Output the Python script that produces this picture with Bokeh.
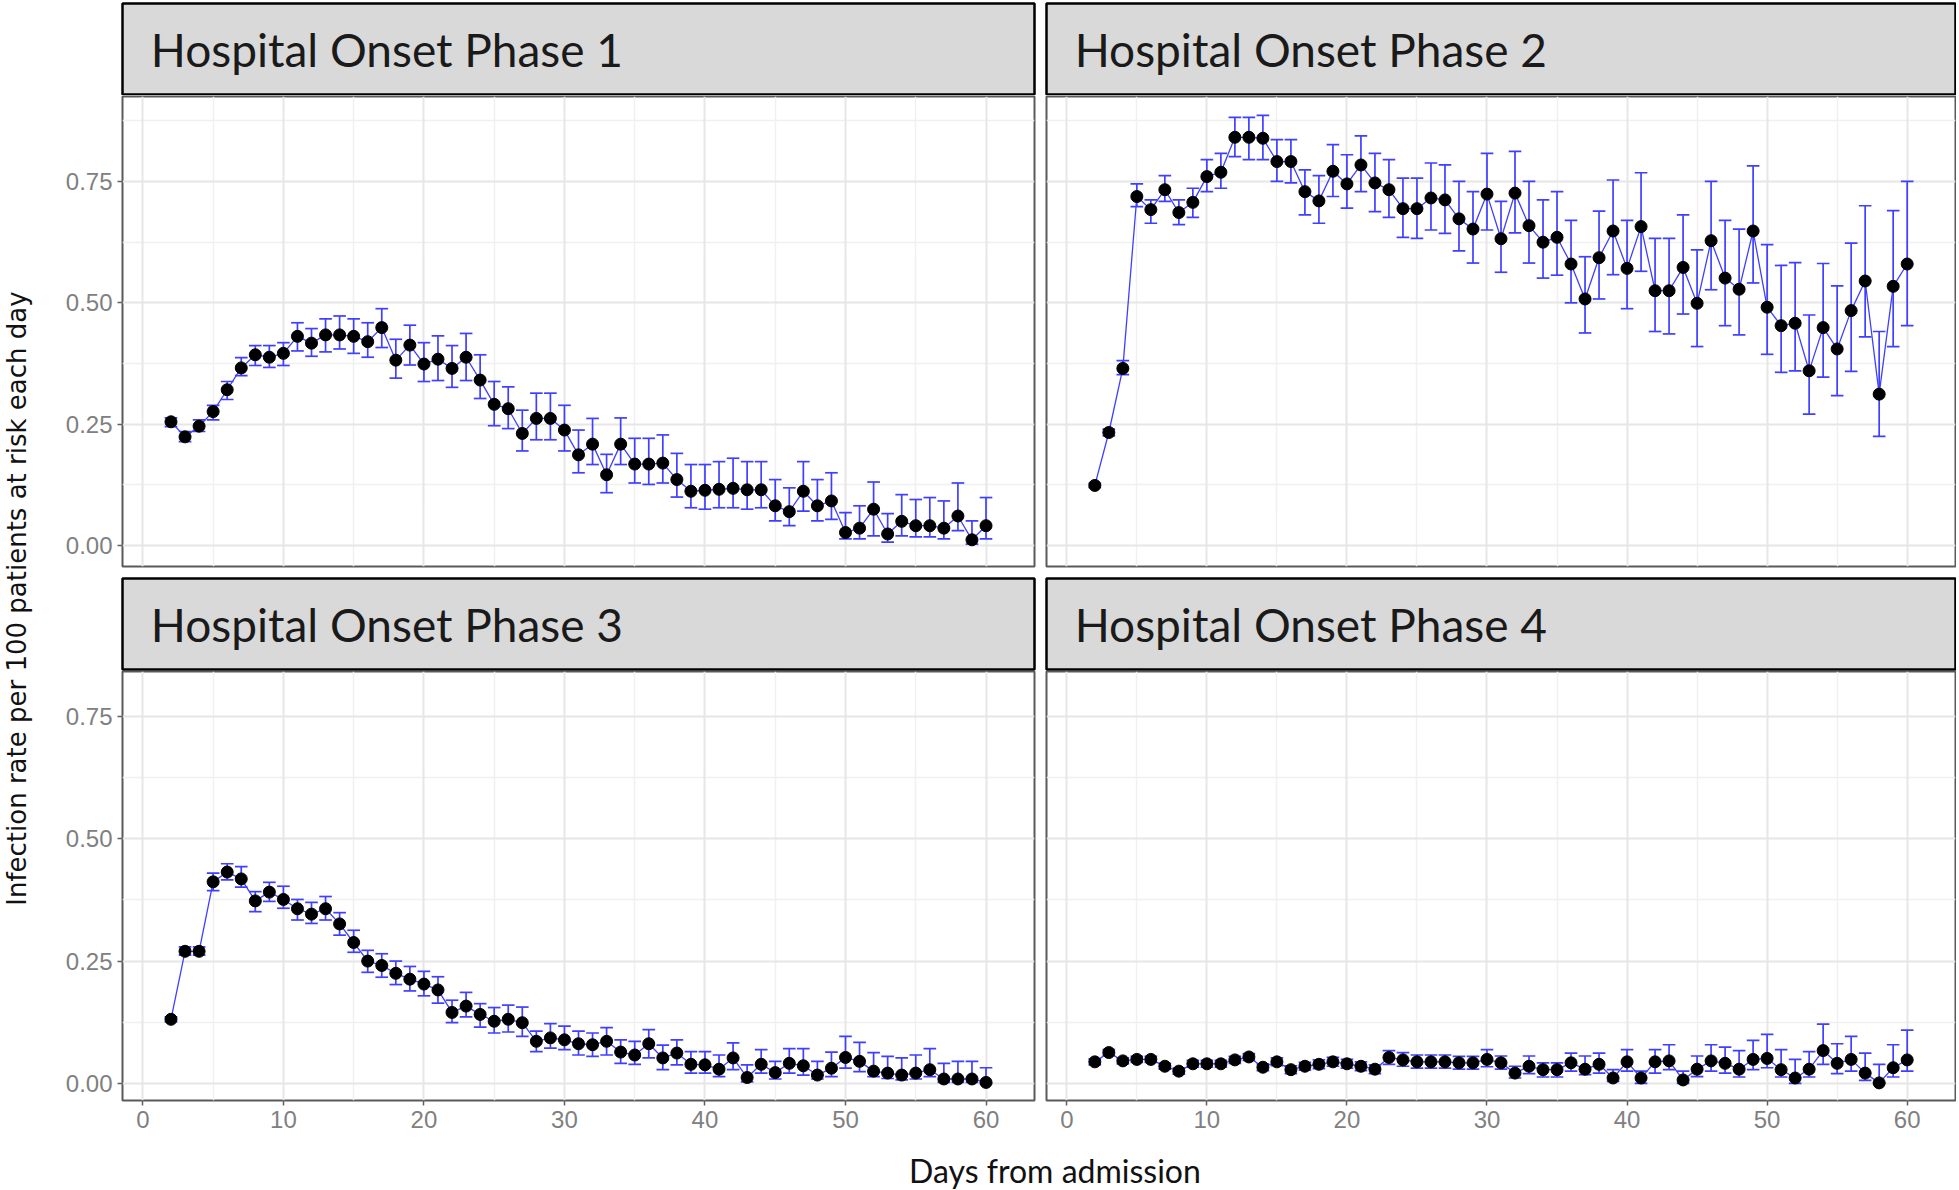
import math
from bokeh.plotting import figure
from bokeh.models import (Range1d, LinearAxis, FixedTicker, Grid, Label,
                          ColumnDataSource, PrintfTickFormatter)
from bokeh.layouts import row, column
from bokeh.embed import file_html
from bokeh.resources import INLINE

# ---------------- data ----------------
days = list(range(2, 61))

panel_titles = ["Hospital Onset Phase 1", "Hospital Onset Phase 2",
                "Hospital Onset Phase 3", "Hospital Onset Phase 4"]
x_label = "Days from admission"
y_label = "Infection rate per 100 patients at risk each day"
x_ticks = [0, 10, 20, 30, 40, 50, 60]
x_minor = [5, 15, 25, 35, 45, 55]
y_ticks = [0.0, 0.25, 0.5, 0.75]
y_minor = [0.125, 0.375, 0.625, 0.875]

phase1_rate = [0.255, 0.224, 0.246, 0.276, 0.321, 0.366, 0.393, 0.388, 0.396,
               0.431, 0.417, 0.434, 0.434, 0.431, 0.420, 0.449, 0.382, 0.413, 0.374,
               0.384, 0.365, 0.388, 0.341, 0.291, 0.282, 0.231, 0.262, 0.262, 0.238,
               0.187, 0.209, 0.146, 0.209, 0.168, 0.168, 0.170, 0.136, 0.112, 0.114,
               0.116, 0.118, 0.115, 0.115, 0.082, 0.070, 0.112, 0.082, 0.092, 0.027,
               0.036, 0.075, 0.024, 0.050, 0.041, 0.041, 0.036, 0.061, 0.012, 0.041]
phase1_lower = [0.245, 0.214, 0.235, 0.259, 0.301, 0.350, 0.371, 0.367, 0.371,
                0.401, 0.390, 0.399, 0.405, 0.396, 0.388, 0.408, 0.345, 0.372, 0.338,
                0.340, 0.326, 0.340, 0.303, 0.247, 0.241, 0.195, 0.218, 0.218, 0.195,
                0.150, 0.167, 0.109, 0.167, 0.129, 0.126, 0.129, 0.100, 0.078, 0.075,
                0.078, 0.078, 0.075, 0.078, 0.051, 0.041, 0.071, 0.051, 0.054, 0.014,
                0.014, 0.020, 0.007, 0.020, 0.018, 0.018, 0.014, 0.031, 0.003, 0.014]
phase1_upper = [0.263, 0.235, 0.259, 0.289, 0.338, 0.387, 0.412, 0.412, 0.418,
                0.459, 0.447, 0.467, 0.473, 0.467, 0.459, 0.488, 0.425, 0.454, 0.418,
                0.432, 0.412, 0.437, 0.393, 0.338, 0.327, 0.279, 0.314, 0.314, 0.289,
                0.238, 0.262, 0.188, 0.263, 0.221, 0.221, 0.228, 0.190, 0.167, 0.167,
                0.173, 0.180, 0.173, 0.173, 0.136, 0.119, 0.173, 0.136, 0.150, 0.068,
                0.082, 0.131, 0.066, 0.105, 0.095, 0.099, 0.092, 0.129, 0.051, 0.099]

phase2_rate = [0.124, 0.233, 0.365, 0.719, 0.692, 0.733, 0.686, 0.707, 0.760,
               0.769, 0.841, 0.841, 0.839, 0.791, 0.791, 0.729, 0.710, 0.771, 0.745,
               0.784, 0.747, 0.733, 0.694, 0.694, 0.716, 0.712, 0.673, 0.652, 0.724,
               0.632, 0.726, 0.659, 0.625, 0.635, 0.580, 0.508, 0.593, 0.648, 0.571,
               0.657, 0.525, 0.525, 0.573, 0.499, 0.628, 0.551, 0.528, 0.648, 0.491,
               0.453, 0.458, 0.360, 0.449, 0.405, 0.484, 0.545, 0.312, 0.534, 0.580]
phase2_lower = [0.120, 0.226, 0.352, 0.698, 0.664, 0.709, 0.661, 0.676, 0.729,
                0.736, 0.801, 0.795, 0.795, 0.750, 0.747, 0.681, 0.664, 0.719, 0.695,
                0.729, 0.688, 0.676, 0.635, 0.633, 0.650, 0.643, 0.607, 0.582, 0.650,
                0.563, 0.644, 0.582, 0.551, 0.557, 0.500, 0.438, 0.508, 0.558, 0.488,
                0.565, 0.441, 0.436, 0.477, 0.410, 0.527, 0.453, 0.434, 0.541, 0.394,
                0.357, 0.360, 0.271, 0.347, 0.309, 0.359, 0.430, 0.225, 0.410, 0.453]
phase2_upper = [0.128, 0.240, 0.381, 0.745, 0.712, 0.762, 0.712, 0.736, 0.795,
                0.808, 0.882, 0.882, 0.886, 0.836, 0.836, 0.774, 0.762, 0.826, 0.805,
                0.844, 0.808, 0.795, 0.757, 0.757, 0.788, 0.784, 0.750, 0.729, 0.808,
                0.709, 0.812, 0.750, 0.712, 0.729, 0.670, 0.595, 0.689, 0.753, 0.670,
                0.768, 0.633, 0.633, 0.681, 0.609, 0.750, 0.670, 0.652, 0.782, 0.620,
                0.577, 0.583, 0.475, 0.581, 0.535, 0.623, 0.700, 0.441, 0.690, 0.750]

phase3_rate = [0.131, 0.270, 0.270, 0.412, 0.432, 0.418, 0.373, 0.391, 0.376,
               0.357, 0.346, 0.357, 0.326, 0.288, 0.250, 0.241, 0.225, 0.213, 0.203,
               0.191, 0.145, 0.158, 0.141, 0.127, 0.131, 0.124, 0.086, 0.093, 0.089,
               0.081, 0.079, 0.086, 0.064, 0.058, 0.081, 0.052, 0.062, 0.039, 0.038,
               0.029, 0.052, 0.012, 0.039, 0.022, 0.041, 0.036, 0.017, 0.031, 0.053,
               0.045, 0.025, 0.021, 0.017, 0.021, 0.028, 0.009, 0.009, 0.009, 0.002]
phase3_lower = [0.126, 0.262, 0.262, 0.394, 0.416, 0.401, 0.351, 0.372, 0.358,
                0.334, 0.327, 0.334, 0.303, 0.268, 0.227, 0.217, 0.202, 0.189, 0.179,
                0.164, 0.124, 0.136, 0.115, 0.103, 0.105, 0.096, 0.065, 0.072, 0.069,
                0.058, 0.055, 0.058, 0.041, 0.039, 0.052, 0.028, 0.038, 0.021, 0.021,
                0.014, 0.028, 0.003, 0.021, 0.009, 0.021, 0.017, 0.009, 0.014, 0.031,
                0.024, 0.014, 0.010, 0.007, 0.009, 0.014, 0.002, 0.002, 0.002, 0.000]
phase3_upper = [0.136, 0.279, 0.279, 0.430, 0.449, 0.443, 0.392, 0.411, 0.403,
                0.376, 0.370, 0.382, 0.349, 0.313, 0.272, 0.265, 0.250, 0.239, 0.229,
                0.218, 0.170, 0.186, 0.163, 0.155, 0.160, 0.156, 0.107, 0.122, 0.117,
                0.107, 0.103, 0.114, 0.089, 0.086, 0.110, 0.078, 0.089, 0.065, 0.065,
                0.058, 0.083, 0.038, 0.069, 0.045, 0.071, 0.071, 0.045, 0.064, 0.096,
                0.084, 0.063, 0.055, 0.052, 0.058, 0.071, 0.041, 0.045, 0.045, 0.032]

phase4_rate = [0.044, 0.063, 0.046, 0.049, 0.049, 0.035, 0.025, 0.040, 0.040,
               0.040, 0.048, 0.054, 0.033, 0.044, 0.028, 0.035, 0.039, 0.044, 0.040,
               0.035, 0.029, 0.053, 0.048, 0.044, 0.044, 0.044, 0.042, 0.042, 0.049,
               0.042, 0.021, 0.035, 0.028, 0.028, 0.042, 0.029, 0.039, 0.011, 0.044,
               0.011, 0.044, 0.046, 0.007, 0.029, 0.046, 0.041, 0.029, 0.049, 0.051,
               0.028, 0.011, 0.029, 0.067, 0.041, 0.049, 0.021, 0.001, 0.032, 0.048]
phase4_lower = [0.038, 0.057, 0.040, 0.043, 0.043, 0.029, 0.019, 0.033, 0.033,
                0.033, 0.041, 0.047, 0.026, 0.036, 0.020, 0.027, 0.030, 0.035, 0.031,
                0.026, 0.020, 0.039, 0.035, 0.031, 0.031, 0.031, 0.029, 0.029, 0.034,
                0.029, 0.011, 0.020, 0.013, 0.013, 0.025, 0.018, 0.021, 0.004, 0.025,
                0.000, 0.021, 0.028, 0.000, 0.014, 0.025, 0.021, 0.013, 0.028, 0.032,
                0.013, 0.000, 0.013, 0.039, 0.020, 0.025, 0.006, 0.000, 0.013, 0.025]
phase4_upper = [0.050, 0.069, 0.052, 0.055, 0.055, 0.041, 0.031, 0.047, 0.047,
                0.047, 0.055, 0.061, 0.040, 0.052, 0.036, 0.043, 0.048, 0.053, 0.049,
                0.044, 0.038, 0.067, 0.063, 0.058, 0.058, 0.058, 0.055, 0.055, 0.069,
                0.056, 0.035, 0.056, 0.042, 0.042, 0.062, 0.056, 0.062, 0.028, 0.069,
                0.025, 0.069, 0.079, 0.025, 0.056, 0.079, 0.074, 0.067, 0.088, 0.100,
                0.069, 0.049, 0.065, 0.121, 0.081, 0.096, 0.062, 0.039, 0.079, 0.109]

# ---------------- styling ----------------
BLUE = "#3f3fff"
GRID_MAJOR = "#e6e6e6"
GRID_MINOR = "#f0f0f0"
TICK_COLOR = "#808080"
STRIP_FILL = "#d9d9d9"
X_RANGE = (-1.45, 63.45)
Y_RANGE_TOP = (-0.043, 0.925)
Y_RANGE_BOTTOM = (-0.035, 0.842)


def base_figure(width, height, xr, yr, mbl, mbr, mbt, mbb):
    f = figure(width=width, height=height, output_backend="svg",
               toolbar_location=None,
               x_range=Range1d(*xr), y_range=Range1d(*yr),
               x_axis_location=None, y_axis_location=None,
               min_border_left=mbl, min_border_right=mbr,
               min_border_top=mbt, min_border_bottom=mbb)
    f.grid.visible = False
    f.border_fill_color = "white"
    return f


def style_axis(ax):
    ax.axis_line_color = None
    ax.major_tick_line_color = "#606060"
    ax.major_tick_line_width = 1.5
    ax.major_tick_out = 5
    ax.major_tick_in = 0
    ax.minor_tick_line_color = None
    ax.major_label_text_font = "Liberation Sans"
    ax.major_label_text_font_size = "24px"
    ax.major_label_text_color = TICK_COLOR
    ax.major_label_standoff = 5


def make_panel(rate, lower, upper, width, height, mbl, mbr, mbt, mbb,
               yr, left_axis, bottom_axis):
    p = base_figure(width, height, X_RANGE, yr, mbl, mbr, mbt, mbb)
    p.background_fill_color = "white"
    p.outline_line_color = "#5a5a5a"
    p.outline_line_width = 2

    p.add_layout(Grid(dimension=0, ticker=FixedTicker(ticks=x_minor),
                      grid_line_color=GRID_MINOR, grid_line_width=1.5))
    p.add_layout(Grid(dimension=1, ticker=FixedTicker(ticks=y_minor),
                      grid_line_color=GRID_MINOR, grid_line_width=1.5))
    p.add_layout(Grid(dimension=0, ticker=FixedTicker(ticks=x_ticks),
                      grid_line_color=GRID_MAJOR, grid_line_width=2))
    p.add_layout(Grid(dimension=1, ticker=FixedTicker(ticks=y_ticks),
                      grid_line_color=GRID_MAJOR, grid_line_width=2))

    if left_axis:
        ax = LinearAxis(ticker=FixedTicker(ticks=y_ticks),
                        formatter=PrintfTickFormatter(format="%.2f"))
        style_axis(ax)
        p.add_layout(ax, "left")
    if bottom_axis:
        ax = LinearAxis(ticker=FixedTicker(ticks=x_ticks))
        style_axis(ax)
        p.add_layout(ax, "below")

    src = ColumnDataSource(dict(
        day=days, rate=rate, lo=lower, hi=upper,
        cl=[d - 0.45 for d in days], cr=[d + 0.45 for d in days]))
    p.line("day", "rate", source=src, line_color=BLUE, line_width=1.3)
    p.segment(x0="day", y0="lo", x1="day", y1="hi", source=src,
              line_color=BLUE, line_width=1.7)
    p.segment(x0="cl", y0="lo", x1="cr", y1="lo", source=src,
              line_color=BLUE, line_width=1.7)
    p.segment(x0="cl", y0="hi", x1="cr", y1="hi", source=src,
              line_color=BLUE, line_width=1.7)
    p.scatter("day", "rate", source=src, size=12, fill_color="black",
              line_color="black")
    return p


def make_strip(text, width, height, mbl, mbr, mbt, mbb):
    s = base_figure(width, height, (0, 1), (0, 1), mbl, mbr, mbt, mbb)
    s.background_fill_color = STRIP_FILL
    s.outline_line_color = "black"
    s.outline_line_width = 2.5
    s.add_layout(Label(x=0.031, y=0.5, text=text, text_font="Lato",
                       text_font_size="46px", text_color="#1a1a1a",
                       text_align="left", text_baseline="middle"))
    return s


def make_text_fig(text, width, height, x, y, angle, size, font):
    f = base_figure(width, height, (0, 1), (0, 1), 0, 0, 0, 0)
    f.background_fill_color = "white"
    f.outline_line_color = None
    f.add_layout(Label(x=x, y=y, text=text, text_font=font,
                       text_font_size=size, text_color="#111111",
                       angle=angle, text_align="center",
                       text_baseline="middle"))
    return f


# left column: 72 + 912 + 6 = 990 ; right column: 6 + 909 + 1 = 916
LW, RW = 990, 916

s1 = make_strip(panel_titles[0], LW, 95, 72, 6, 3, 1)
s2 = make_strip(panel_titles[1], RW, 95, 6, 1, 3, 1)
p1 = make_panel(phase1_rate, phase1_lower, phase1_upper, LW, 482, 72, 6, 1, 11,
                Y_RANGE_TOP, True, False)
p2 = make_panel(phase2_rate, phase2_lower, phase2_upper, RW, 482, 6, 1, 1, 11,
                Y_RANGE_TOP, False, False)
s3 = make_strip(panel_titles[2], LW, 94, 72, 6, 1, 2)
s4 = make_strip(panel_titles[3], RW, 94, 6, 1, 1, 2)
p3 = make_panel(phase3_rate, phase3_lower, phase3_upper, LW, 472, 72, 6, 0, 43,
                Y_RANGE_BOTTOM, True, True)
p4 = make_panel(phase4_rate, phase4_lower, phase4_upper, RW, 472, 6, 1, 0, 43,
                Y_RANGE_BOTTOM, False, True)

xlab = make_text_fig(x_label, LW + RW, 46, 0.527, 0.41, 0, "32px", "Lato")
ylab = make_text_fig(y_label, 50, 1189, 0.32, 0.497, math.pi / 2, "26px",
                     "DejaVu Sans")

layout = row(ylab, column(row(s1, s2), row(p1, p2), row(s3, s4), row(p3, p4), xlab))

open("out.html", "w").write(file_html(layout, INLINE))
